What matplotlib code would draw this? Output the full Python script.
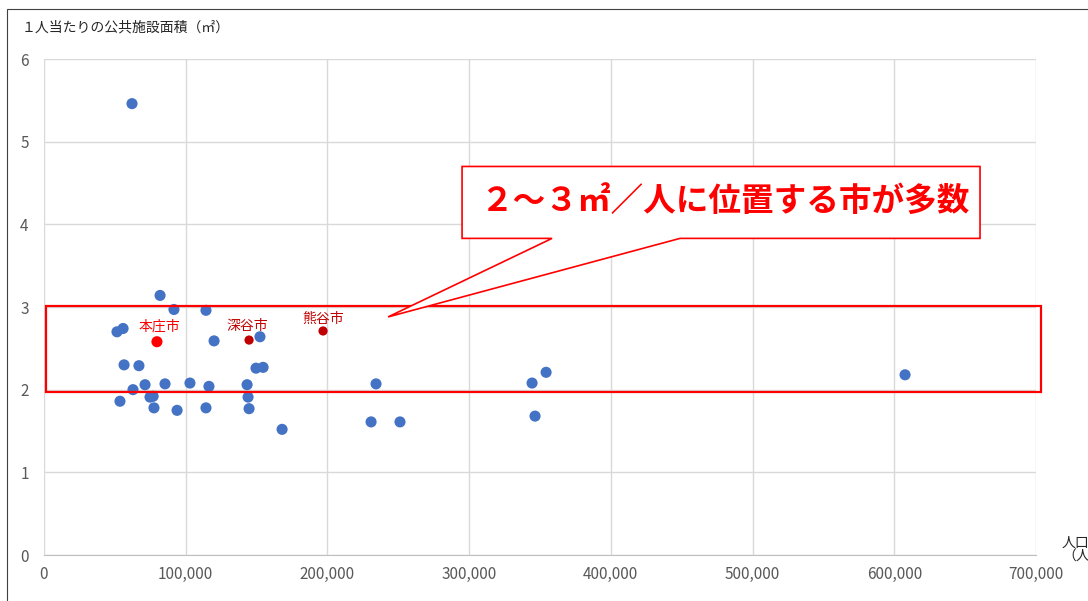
import matplotlib
matplotlib.use("Agg")
import matplotlib.pyplot as plt
from matplotlib.patches import Polygon, Rectangle

plt.rcParams['font.family'] = ['Noto Sans CJK JP', 'DejaVu Sans']

# Other cities (population, public facility area per person m2)
pop = [62100, 81900, 91700, 114300, 51500, 55800, 120000, 152400,
       56500, 67000, 149600, 154600, 62800, 71300, 85400, 103000,
       116400, 143300, 53600, 74800, 77000, 77600, 93900, 114300,
       144000, 144700, 168000, 234300, 230800, 251200, 344400, 354300,
       346500, 607600]
area = [5.46, 3.14, 2.97, 2.96, 2.70, 2.74, 2.59, 2.64,
        2.30, 2.29, 2.26, 2.27, 2.00, 2.06, 2.07, 2.08,
        2.04, 2.06, 1.86, 1.91, 1.92, 1.78, 1.75, 1.78,
        1.91, 1.77, 1.52, 2.07, 1.61, 1.61, 2.08, 2.21,
        1.68, 2.18]

# Highlighted cities
city_names = ['本庄市', '深谷市', '熊谷市']
city_pop = [79700, 144700, 196900]
city_area = [2.58, 2.60, 2.71]

x_ticks = [0, 100000, 200000, 300000, 400000, 500000, 600000, 700000]
y_ticks = [0, 1, 2, 3, 4, 5, 6]

W, H = 1088, 601
fig = plt.figure(figsize=(W / 100, H / 100), dpi=100)
ax = fig.add_axes([44 / W, 1 - 555 / H, (1036 - 44) / W, (555 - 59) / H])

ax.set_xlim(0, 700000)
ax.set_ylim(0, 6)
ax.set_xticks(x_ticks)
ax.set_yticks(y_ticks)
ax.set_xticklabels([f'{v:,}' for v in x_ticks])
ax.set_yticklabels([str(v) for v in y_ticks])
ax.tick_params(length=0, labelsize=11, labelcolor='#595959', pad=8)
ax.tick_params(axis='y', pad=11)
ax.grid(True, color='#d9d9d9', lw=1)
ax.set_axisbelow(True)
for s in ['top', 'right', 'left']:
    ax.spines[s].set_visible(False)
ax.spines['bottom'].set_color('#bfbfbf')

ax.scatter(pop, area, s=64, color='#4472C4', zorder=3, edgecolors='none')

colors = ['#FF0000', '#C00000', '#C00000']
sizes = [64, 44, 44]
offsets = [(2000, 0.18), (-1000, 0.17), (0, 0.15)]
for n, px, py, c, sz, off in zip(city_names, city_pop, city_area, colors, sizes, offsets):
    ax.scatter([px], [py], s=sz, color=c, zorder=4, edgecolors='none')
    ax.text(px + off[0], py + off[1], n, color=c, fontsize=10, ha='center', va='center', zorder=5)

# red band rectangle
ax.add_patch(Rectangle((1400, 1.97), 702200, 1.04, fill=False, edgecolor='#FF0000',
                       lw=1.6, clip_on=False, zorder=6))

# callout
callout = Polygon([(295000, 4.70), (660500, 4.70), (660500, 3.83), (448800, 3.83),
                   (242800, 2.88), (358500, 3.83), (295000, 3.83)], closed=True,
                  facecolor='white', edgecolor='#FF0000', lw=1.2, clip_on=False, zorder=7)
ax.add_patch(callout)
ax.text(480000, 4.28, '２～３㎡／人に位置する市が多数', color='#FF0000', fontsize=23.5,
        fontweight='bold', ha='center', va='center', zorder=8)

# titles
fig.text(22 / W, 1 - 27 / H, '１人当たりの公共施設面積（㎡）', fontsize=10, color='#262626',
         ha='left', va='center')
fig.text(1062 / W, 1 - 550 / H, '人口\n（人）', fontsize=10, color='#262626',
         ha='left', va='center', linespacing=1.0)

# outer frame
fig.patches.append(Rectangle((7 / W, -0.05), 1.2, 1 - 9 / H + 0.05, transform=fig.transFigure,
                             fill=False, edgecolor='#404040', lw=0.8))

fig.savefig('out.png', dpi=100)
